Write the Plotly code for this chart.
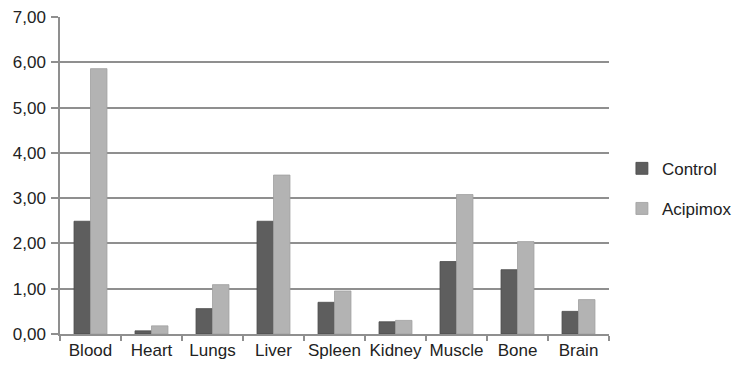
import plotly.graph_objects as go

categories = ["Blood", "Heart", "Lungs", "Liver", "Spleen", "Kidney", "Muscle", "Bone", "Brain"]
control = [2.49, 0.07, 0.56, 2.49, 0.70, 0.27, 1.60, 1.42, 0.50]
acipimox = [5.86, 0.18, 1.09, 3.51, 0.95, 0.30, 3.08, 2.04, 0.76]
y_ticks = [0, 1, 2, 3, 4, 5, 6, 7]

fig = go.Figure()
fig.add_trace(go.Bar(x=categories, y=control, name="Control", legendgroup="a",
                     marker=dict(color="#5e5e5e", line=dict(color="#4a4a4a", width=0.8))))
fig.add_trace(go.Bar(x=categories, y=acipimox, name="Acipimox", legendgroup="b",
                     marker=dict(color="#b3b3b3", line=dict(color="#a0a0a0", width=0.8))))

font = dict(family="Liberation Sans, Arial, sans-serif", size=17, color="#222222")
fig.update_layout(
    width=738, height=366,
    margin=dict(l=52, r=132, t=9, b=40),
    paper_bgcolor="white", plot_bgcolor="white",
    separators=",.",
    font=font,
    barmode="group", bargap=0.46, bargroupgap=0,
    showlegend=True,
    legend=dict(x=1.233, xanchor="right", y=0.458, yanchor="middle",
                traceorder="grouped", tracegroupgap=15, font=font,
                itemwidth=30, bgcolor="rgba(0,0,0,0)"),
)
fig.update_xaxes(showgrid=False, showline=True, linecolor="#8f8f8f", linewidth=1.5,
                 ticks="outside", tickson="boundaries", ticklen=5, tickcolor="#8f8f8f",
                 tickwidth=1.5, tickfont=font, tickangle=0, automargin=False)
fig.update_yaxes(range=[0, 7], tickvals=y_ticks, tickformat=".2f", showgrid=True,
                 gridcolor="#8f8f8f", gridwidth=1.5, showline=True, linecolor="#8f8f8f",
                 linewidth=1.5, ticks="outside", ticklen=7, tickcolor="#8f8f8f", tickwidth=1.5,
                 zeroline=False, tickfont=font, automargin=False, ticklabelstandoff=2,
                 ticklabeloverflow="allow")

fig.write_html("out.html")
